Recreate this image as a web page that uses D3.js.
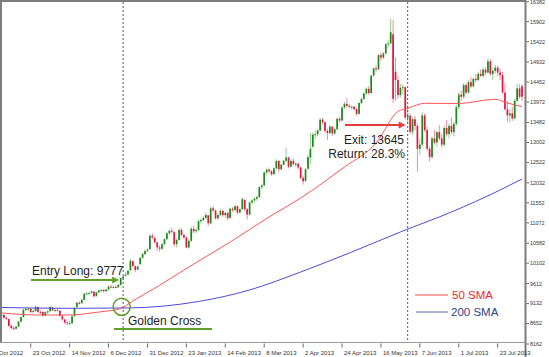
<!DOCTYPE html>
<html><head><meta charset="utf-8">
<script src="https://cdn.jsdelivr.net/npm/d3@7"></script>
<style>body{margin:0;background:#fff}svg{display:block}</style>
</head><body><svg id="c" width="549" height="357"></svg>
<script>
// ---- data (bar index 0 = 1 Oct 2012, weekdays) ----
const startIndex = 4;
const open = [8830,8860,8790,8760,8600,8550,8530,8580,8700,8810,8980,8990,9010,8930,8950,9050,8930,8930,8840,8920,8950,9040,8970,8975,8960,8830,8750,8680,8650,8660,8830,9050,9150,9140,9220,9360,9370,9390,9420,9310,9400,9450,9460,9430,9470,9540,9520,9530,9525,9580,9740,9800,9830,9930,10150,10030,9950,10080,10230,10320,10400,10440,10760,10710,10600,10480,10450,10560,10680,10820,10880,10850,10560,10660,10900,10780,10720,10480,10640,10930,10870,10900,11110,11140,11190,11250,11060,11420,11370,11180,11260,11360,11260,11310,11190,11410,11380,11470,11320,11400,11620,11400,11270,11560,11610,11650,11690,11930,11970,12280,12350,12310,12240,12380,12560,12360,12470,12560,12640,12420,12560,12480,12490,12400,12150,12080,12370,12640,12900,13190,13200,13290,13550,13490,13280,13230,13380,13220,13320,13570,13530,13840,13930,13880,13860,13860,13800,13690,13950,14050,14180,14290,14190,14610,14780,14760,15100,15040,15140,15360,15380,15600,14700,14500,14140,14310,14330,13600,13640,13260,13560,13400,12850,12950,13650,13300,12850,12650,13100,13000,13250,13100,12950,13350,13200,13400,13250,13450,13850,14150,14100,14380,14200,14450,14350,14530,14500,14650,14600,14750,14680,14950,14650,14720,14800,14680,14620,14200,13800,13650,13700,13580,14000,14300,14350];
const high = [8890,8875,8820,8770,8630,8590,8600,8720,8830,9000,9040,9030,9020,8990,9090,9060,8970,8950,8950,8970,9080,9050,9010,9020,8970,8850,8770,8700,8720,8850,9050,9180,9190,9240,9390,9400,9420,9450,9430,9420,9470,9490,9480,9490,9560,9580,9560,9570,9610,9760,9800,9900,9940,10190,10170,10050,10050,10250,10350,10430,10460,10800,10820,10740,10620,10530,10600,10700,10850,10920,10950,10870,10700,10950,10940,10820,10740,10680,10980,11000,10940,11150,11180,11240,11320,11270,11460,11480,11390,11300,11400,11380,11340,11330,11440,11450,11500,11490,11420,11680,11650,11430,11580,11640,11680,11720,11950,12010,12300,12380,12400,12340,12400,12600,12570,12490,12580,12870,12660,12600,12620,12530,12520,12420,12210,12380,12700,13230,13240,13290,13320,13580,13590,13500,13330,13420,13400,13360,13600,13620,13870,13980,14070,13920,13900,13880,13830,13960,14080,14200,14330,14360,14620,14800,14850,15120,15160,15170,15400,15460,15970,15940,15050,14600,14400,14400,14350,13900,13700,13620,13640,13450,13100,13730,13700,13380,12900,13150,13300,13280,13420,13200,13400,13540,13450,13610,13500,13900,14200,14250,14430,14420,14500,14570,14560,14650,14700,14760,14800,14810,15030,15000,14780,14860,14850,14780,14700,14430,14000,13800,13850,14050,14420,14400,14400];
const low = [8800,8770,8740,8580,8510,8488,8500,8570,8690,8800,8950,8950,8900,8900,8940,8910,8890,8820,8830,8880,8940,8950,8940,8950,8820,8720,8650,8620,8610,8650,8820,9040,9110,9130,9210,9340,9350,9370,9280,9300,9390,9420,9400,9410,9450,9500,9490,9500,9510,9570,9710,9790,9810,9920,10000,9890,9940,10060,10210,10300,10370,10420,10680,10580,10400,10380,10420,10540,10660,10790,10820,10500,10480,10640,10740,10680,10470,10450,10620,10820,10820,10880,11060,11100,11160,11000,11040,11320,11150,11150,11240,11220,11200,11140,11170,11330,11350,11280,11290,11380,11350,11150,11250,11520,11560,11600,11670,11880,11950,12230,12260,12200,12220,12360,12300,12330,12440,12540,12380,12400,12450,12410,12350,12120,11990,12050,12350,12480,12880,13080,13150,13270,13430,13230,13060,13200,13160,13180,13300,13480,13510,13800,13840,13820,13790,13770,13640,13670,13920,14020,14150,14150,14170,14580,14700,14740,14960,15000,15120,15280,15360,13950,14000,14050,14080,14150,13550,13450,13200,13180,13300,12300,12700,12900,13250,12800,12550,12600,12950,12900,13050,12880,12900,13150,13100,13200,13150,13400,13800,14000,14050,14150,14180,14300,14320,14450,14480,14580,14560,14620,14660,14600,14500,14650,14600,14500,14180,13780,13500,13480,13520,13560,13980,14050,14000];
const close = [8863,8790,8769,8596,8546,8534,8577,8701,8806,8983,9002,9010,8930,8956,9055,8933,8929,8841,8928,8946,9051,8975,8975,8972,8837,8757,8676,8661,8664,8829,9024,9153,9142,9222,9366,9380,9388,9423,9308,9400,9446,9458,9432,9468,9545,9527,9533,9525,9581,9742,9777,9828,9923,10160,10039,9940,10020,10230,10322,10395,10430,10760,10720,10600,10480,10450,10560,10680,10820,10880,10860,10560,10660,10900,10780,10720,10480,10640,10930,10870,10900,11110,11140,11190,11260,11060,11420,11370,11180,11260,11360,11260,11310,11190,11410,11380,11470,11320,11400,11640,11400,11270,11560,11610,11650,11690,11930,11970,12280,12350,12310,12240,12380,12560,12360,12470,12560,12640,12420,12560,12480,12490,12400,12150,12070,12360,12650,12850,13190,13200,13290,13550,13490,13280,13230,13380,13220,13320,13570,13530,13840,13930,13880,13860,13860,13800,13690,13950,14050,14180,14290,14190,14610,14780,14760,15100,15040,15140,15360,15380,15650,14050,14500,14140,14310,14330,13600,13645,13260,13560,13400,12850,12950,13650,13300,12850,12650,13100,13000,13250,13100,12950,13350,13200,13400,13250,13450,13850,14150,14100,14380,14200,14450,14350,14530,14500,14650,14600,14750,14680,14950,14650,14720,14800,14680,14620,14200,13800,13650,13700,13580,14000,14300,14100,14100];

const tickIndex = [0,16,32,48,64,80,96,112,128,144,160,176,192,208];
const tickLabels = ["1 Oct 2012","23 Oct 2012","14 Nov 2012","6 Dec 2012","31 Dec 2012","23 Jan 2013","14 Feb 2013","8 Mar 2013","2 Apr 2013","24 Apr 2013","16 May 2013","7 Jun 2013","1 Jul 2013","23 Jul 2013"];
const priceTicks = [16382,15902,15422,14932,14452,13972,13482,13002,12522,12032,11552,11072,10582,10102,9612,9132,8652,8162];

const sma50Idx = [4,20,31,44,53,58,69,79,98,114,127,145,158,167,171,178,192,207,212,218];
const sma50 = [8906,8858,8858,8930,9015,9195,9572,9939,10611,11212,11668,12413,12989,13746,13822,13942,13938,14039,13950,13861];
const sma200Idx = [4,31,56,85,106,127,148,168,189,209,218];
const sma200 = [9039,9019,9027,9183,9459,9891,10371,10852,11332,11860,12124];

const entryIdx = 54, entryPrice = 9777;
const exitIdx = 171, exitPrice = 13645, exitReturn = "28.3%";
const crossIdx = 53.4, crossPrice = 9055;

// ---- chart ----
const svg = d3.select("#c");
const L = 2, R = 525, T = 2, B = 342.5;
const x = d3.scaleLinear().domain([0, 218]).range([-8.2, 522]);
const y = d3.scaleLinear().domain([8162, 15902]).range([344, 21.7]);
const font = "'Liberation Sans', Arial, sans-serif";

svg.append("defs").append("clipPath").attr("id","clip")
  .append("rect").attr("x",L).attr("y",T).attr("width",R-L).attr("height",B-T);

const plot = svg.append("g").attr("clip-path","url(#clip)");

const data = close.map((c,k)=>({i:startIndex+k,o:open[k],h:high[k],l:low[k],c:c}));
const bull = d => d.c >= d.o;

plot.selectAll(".wick").data(data).enter().append("line")
  .attr("x1",d=>x(d.i)).attr("x2",d=>x(d.i))
  .attr("y1",d=>y(d.h)).attr("y2",d=>y(d.l))
  .attr("stroke",d=>bull(d)?"#8fd08f":"#f28aa2").attr("stroke-width",1);
plot.selectAll(".body").data(data).enter().append("rect")
  .attr("x",d=>x(d.i)-0.85).attr("width",1.7)
  .attr("y",d=>y(Math.max(d.o,d.c)))
  .attr("height",d=>Math.max(1,Math.abs(y(d.o)-y(d.c))))
  .attr("fill",d=>bull(d)?"#1b8a1b":"#e5173f");

const line = d3.line().x(d=>x(d[0])).y(d=>y(d[1])).curve(d3.curveMonotoneX);
plot.append("path").datum(sma200Idx.map((v,k)=>[v,sma200[k]]))
  .attr("d",line).attr("fill","none").attr("stroke","#4b4bdc").attr("stroke-width",1);
plot.append("path").datum(sma50Idx.map((v,k)=>[v,sma50[k]]))
  .attr("d",line).attr("fill","none").attr("stroke","#ff5656").attr("stroke-width",1);

// dashed verticals
[entryIdx, exitIdx].forEach(i=>{
  svg.append("line").attr("x1",x(i)).attr("x2",x(i)).attr("y1",T).attr("y2",B)
    .attr("stroke","#555").attr("stroke-width",1).attr("stroke-dasharray","2,2");
});

// frame
svg.append("line").attr("x1",0).attr("x2",R).attr("y1",1).attr("y2",1).attr("stroke","#7d7d7d").attr("stroke-width",2);
svg.append("line").attr("x1",1).attr("x2",1).attr("y1",0).attr("y2",B).attr("stroke","#7d7d7d").attr("stroke-width",2);
svg.append("line").attr("x1",R+0.5).attr("x2",R+0.5).attr("y1",0).attr("y2",357).attr("stroke","#7d7d7d").attr("stroke-width",2);
svg.append("line").attr("x1",0).attr("x2",R).attr("y1",B).attr("y2",B).attr("stroke","#9a9a9a").attr("stroke-width",1);

// y axis
const ya = svg.append("g");
priceTicks.forEach(v=>{
  ya.append("line").attr("x1",R+1.5).attr("x2",R+4).attr("y1",y(v)).attr("y2",y(v)).attr("stroke","#666");
  ya.append("text").attr("x",R+5).attr("y",y(v)).attr("dy","0.35em")
    .attr("font-family",font).attr("font-size",5.4).attr("fill","#333").text(v);
});
// x axis
const xa = svg.append("g");
tickIndex.forEach((i,k)=>{
  const px = x(i);
  if (px > L) xa.append("line").attr("x1",px).attr("x2",px).attr("y1",B+1).attr("y2",B+5).attr("stroke","#666");
  xa.append("text").attr("x",px+2).attr("y",355).attr("font-family","'Liberation Sans Narrow','Arial Narrow',"+font)
    .attr("font-size",6).attr("fill","#333").text(tickLabels[k]);
});

// annotations
const green = "#62a02e", red = "#e2403c";
const ey = y(9699);
const ex = x(entryIdx) - 4;
svg.append("line").attr("x1",31).attr("x2",ex-5).attr("y1",ey).attr("y2",ey).attr("stroke",green).attr("stroke-width",2.2);
svg.append("path").attr("d",`M${ex-7},${ey-3.5}L${ex},${ey}L${ex-7},${ey+3.5}Z`).attr("fill",green);
svg.append("text").attr("x",32).attr("y",ey-4.5).attr("font-family",font).attr("font-size",12).attr("fill","#1e1e1e")
  .text("Entry Long: " + entryPrice);

svg.append("circle").attr("cx",x(crossIdx)).attr("cy",y(crossPrice)).attr("r",8.5)
  .attr("fill","none").attr("stroke",green).attr("stroke-width",1.6);
svg.append("text").attr("x",128).attr("y",324.5).attr("font-family",font).attr("font-size",12).attr("fill","#1e1e1e").text("Golden Cross");
svg.append("line").attr("x1",114).attr("x2",212).attr("y1",329).attr("y2",329).attr("stroke",green).attr("stroke-width",2);

const ry = 125, rx = x(exitIdx) - 2;
svg.append("line").attr("x1",345).attr("x2",rx-5).attr("y1",ry).attr("y2",ry).attr("stroke",red).attr("stroke-width",2);
svg.append("path").attr("d",`M${rx-7},${ry-3.5}L${rx},${ry}L${rx-7},${ry+3.5}Z`).attr("fill",red);
svg.append("text").attr("x",404).attr("y",144).attr("text-anchor","end").attr("font-family",font).attr("font-size",12).attr("fill","#1e1e1e").text("Exit: " + exitPrice);
svg.append("text").attr("x",405).attr("y",157.5).attr("text-anchor","end").attr("font-family",font).attr("font-size",12).attr("fill","#1e1e1e").text("Return: " + exitReturn);

// legend
svg.append("line").attr("x1",415).attr("x2",448).attr("y1",295).attr("y2",295).attr("stroke","#ff4a4a").attr("stroke-width",1);
svg.append("text").attr("x",452).attr("y",299).attr("font-family",font).attr("font-size",11.5).attr("fill","#f02828").text("50 SMA");
svg.append("line").attr("x1",416).attr("x2",448).attr("y1",312).attr("y2",312).attr("stroke","#5068a0").attr("stroke-width",1);
svg.append("text").attr("x",451).attr("y",316).attr("font-family",font).attr("font-size",11.5).attr("fill","#2b4585").text("200 SMA");
</script></body></html>
